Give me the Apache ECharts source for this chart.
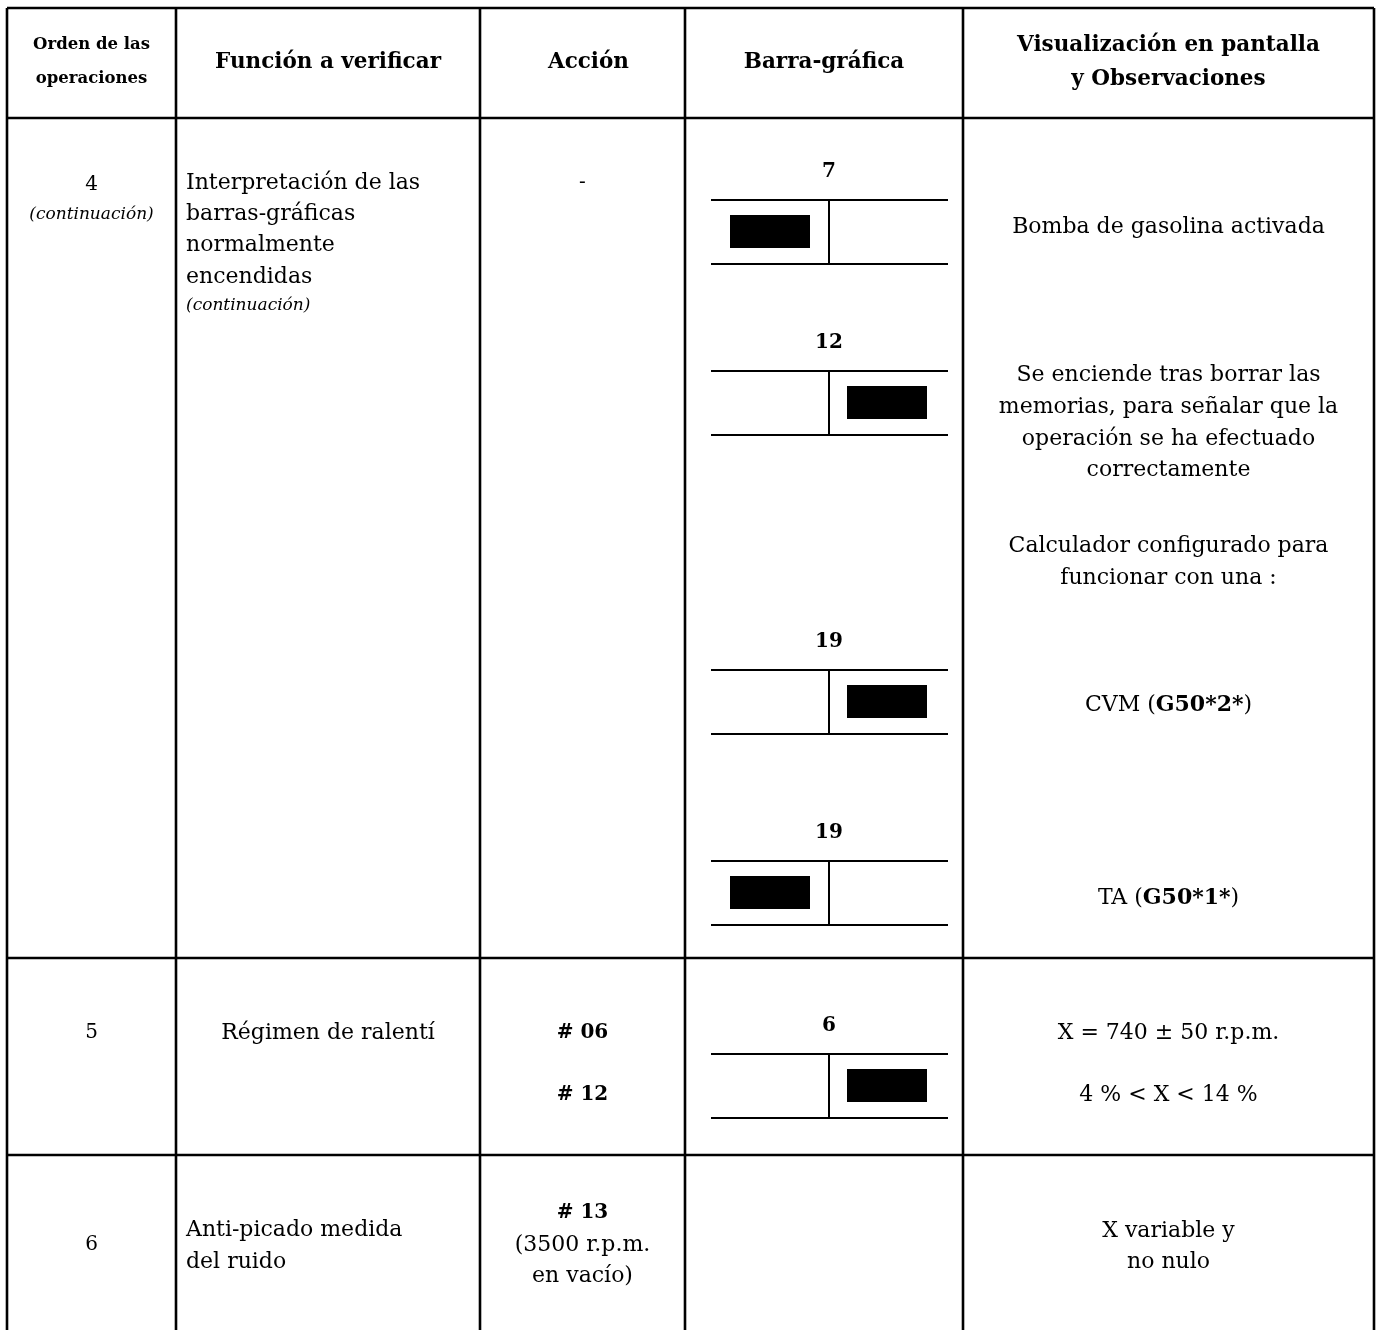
<!DOCTYPE html>
<html>
<head>
<meta charset="utf-8">
<script src="https://cdn.jsdelivr.net/npm/echarts@6/dist/echarts.min.js"></script>
<style>
    html, body {margin: 0; padding: 0; background: #fff;}
    #chart {width: 1378px; height: 1330px;}
</style>
</head>
<body>
<div id="chart"></div>
<script>
// contenido de la tabla
var headers = ['Orden de las\noperaciones', 'Función a verificar', 'Acción', 'Barra-gráfica', 'Visualización en pantalla\ny Observaciones'];
var orderNums = ['4', '5', '6'];
var orderNote = '(continuación)';
var functionNames = ['Interpretación de las\nbarras-gráficas\nnormalmente\nencendidas', 'Régimen de ralentí', 'Anti-picado medida\ndel ruido'];
var actions = ['-', '# 06', '# 12', '# 13', '(3500 r.p.m.\nen vacío)'];
var observations = [
    'Bomba de gasolina activada',
    'Se enciende tras borrar las\nmemorias, para señalar que la\noperación se ha efectuado\ncorrectamente',
    'Calculador configurado para\nfuncionar con una :',
    'CVM ({b|G50*2*})',
    'TA ({b|G50*1*})',
    'X = 740 ± 50 r.p.m.',
    '4 % < X < 14 %',
    'X variable y\nno nulo'
];
// barras-gráficas: número y lado encendido
var barNumbers = [7, 12, 19, 19, 6];
var barLit = ['izq', 'der', 'der', 'izq', 'der'];

// geometría de la tabla (px)
var W = 1378, H = 1330;
var colX = [7, 176, 480, 685, 963, 1374];
var rowY = [8, 118, 958, 1155];
var barTop = [200, 371, 670, 861, 1054];

var serif = '"DejaVu Serif", "Liberation Serif", serif';
var mid = function (i) { return (colX[i] + colX[i + 1]) / 2 };

// celdas de texto
var cells = [
    {x: mid(0), y: 62, text: headers[0], size: 16.5, weight: 'bold', lh: 34},
    {x: mid(1), y: 62, text: headers[1], size: 21.5, weight: 'bold'},
    {x: mid(2) + 6, y: 62, text: headers[2], size: 21.5, weight: 'bold'},
    {x: mid(3), y: 62, text: headers[3], size: 21.5, weight: 'bold'},
    {x: mid(4), y: 62, text: headers[4], size: 21.5, weight: 'bold', lh: 34},

    {x: mid(0), y: 185, text: orderNums[0], size: 20},
    {x: mid(0), y: 215, text: orderNote, size: 17, style: 'italic'},
    {x: 186, y: 230, text: functionNames[0], size: 22, lh: 31.3, align: 'left'},
    {x: 186, y: 306, text: orderNote, size: 17, style: 'italic', align: 'left'},
    {x: mid(2), y: 183, text: actions[0], size: 20},
    {x: mid(4), y: 227, text: observations[0], size: 22},
    {x: mid(4), y: 423, text: observations[1], size: 22, lh: 31.7},
    {x: mid(4), y: 562, text: observations[2], size: 22, lh: 32},
    {x: mid(4), y: 705, text: observations[3], size: 22},
    {x: mid(4), y: 898, text: observations[4], size: 22},

    {x: mid(0), y: 1033, text: orderNums[1], size: 20},
    {x: mid(1), y: 1033, text: functionNames[1], size: 22},
    {x: mid(2), y: 1033, text: actions[1], size: 20, weight: 'bold'},
    {x: mid(2), y: 1095, text: actions[2], size: 20, weight: 'bold'},
    {x: mid(4), y: 1033, text: observations[5], size: 22},
    {x: mid(4), y: 1095, text: observations[6], size: 22},

    {x: mid(0), y: 1245, text: orderNums[2], size: 20},
    {x: 186, y: 1246, text: functionNames[2], size: 22, lh: 32, align: 'left'},
    {x: mid(2), y: 1213, text: actions[3], size: 20, weight: 'bold'},
    {x: mid(2), y: 1261, text: actions[4], size: 22, lh: 31},
    {x: mid(4), y: 1247, text: observations[7], size: 22, lh: 31}
];

// líneas de la tabla
var rules = [];
rowY.forEach(function (y) { rules.push([colX[0], y, colX[colX.length - 1], y]) });
colX.forEach(function (x) { rules.push([x, rowY[0], x, H]) });

var chart = echarts.init(document.getElementById('chart'));

chart.setOption({
    animation: false,
    grid: {left: 0, right: 0, top: 0, bottom: 0},
    xAxis: {type: 'value', min: 0, max: W, show: false},
    yAxis: {type: 'value', min: 0, max: H, inverse: true, show: false},
    series: [
        {
            type: 'custom',
            name: 'rules',
            silent: true,
            data: rules,
            renderItem: function (params, api) {
                var a = api.coord([api.value(0), api.value(1)]);
                var b = api.coord([api.value(2), api.value(3)]);
                return {
                    type: 'line',
                    shape: {x1: a[0], y1: a[1], x2: b[0], y2: b[1]},
                    style: {stroke: '#000', lineWidth: 2.6}
                };
            }
        },
        {
            type: 'custom',
            name: 'barras',
            silent: true,
            data: barNumbers.map(function (n, i) { return [mid(3) + 5, barTop[i], n] }),
            renderItem: function (params, api) {
                var i = params.dataIndex;
                var c = api.coord([api.value(0), api.value(1)]);
                var bot = api.coord([api.value(0), api.value(1) + 64]);
                var l = api.coord([711, 0])[0], r = api.coord([948, 0])[0];
                var bx = barLit[i] === 'izq' ? api.coord([730, 0])[0] : api.coord([847, 0])[0];
                var b0 = api.coord([0, api.value(1) + 15])[1], b1 = api.coord([0, api.value(1) + 48])[1];
                var bw = api.coord([80, 0])[0] - api.coord([0, 0])[0];
                return {
                    type: 'group',
                    children: [
                        {type: 'line', shape: {x1: l, y1: c[1], x2: r, y2: c[1]}, style: {stroke: '#000', lineWidth: 2}},
                        {type: 'line', shape: {x1: l, y1: bot[1], x2: r, y2: bot[1]}, style: {stroke: '#000', lineWidth: 2}},
                        {type: 'line', shape: {x1: c[0], y1: c[1], x2: c[0], y2: bot[1]}, style: {stroke: '#000', lineWidth: 2}},
                        {type: 'rect', shape: {x: bx, y: b0, width: bw, height: b1 - b0}, style: {fill: '#000'}},
                        {
                            type: 'text', x: c[0], y: c[1] - 28,
                            style: {
                                text: String(api.value(2)), fill: '#000', align: 'center', verticalAlign: 'middle',
                                fontFamily: serif, fontSize: 20, fontWeight: 'bold'
                            }
                        }
                    ]
                };
            }
        },
        {
            type: 'custom',
            name: 'cells',
            silent: true,
            data: cells.map(function (c) { return [c.x, c.y] }),
            renderItem: function (params, api) {
                var c = cells[params.dataIndex];
                var p = api.coord([api.value(0), api.value(1)]);
                return {
                    type: 'text', x: p[0], y: p[1],
                    style: {
                        text: c.text, fill: '#000',
                        align: c.align || 'center', verticalAlign: 'middle',
                        fontFamily: serif, fontSize: c.size,
                        fontWeight: c.weight || 'normal', fontStyle: c.style || 'normal',
                        lineHeight: c.lh || c.size * 1.3,
                        rich: {b: {fontFamily: serif, fontSize: c.size, fontWeight: 'bold', fill: '#000'}}
                    }
                };
            }
        }
    ]
});
</script>
</body>
</html>
